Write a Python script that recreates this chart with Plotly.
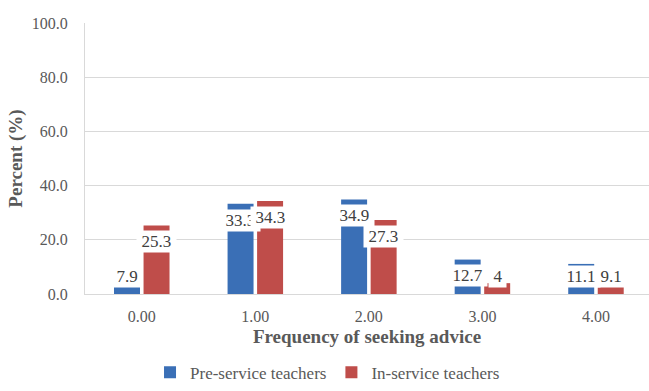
import plotly.graph_objects as go

categories = ["0.00", "1.00", "2.00", "3.00", "4.00"]
pre_service = [7.9, 33.3, 34.9, 12.7, 11.1]
in_service = [25.3, 34.3, 27.3, 4, 9.1]
pre_labels = ["7.9", "33.3", "34.9", "12.7", "11.1"]
in_labels = ["25.3", "34.3", "27.3", "4", "9.1"]
y_ticks = [0, 20, 40, 60, 80, 100]

BLUE = "#3A6FB6"
RED = "#BF4D4A"
FONT = "Liberation Serif"

fig = go.Figure()
fig.add_trace(go.Bar(name="Pre-service teachers", x=categories, y=pre_service,
                     marker_color=BLUE, marker_line_width=0))
fig.add_trace(go.Bar(name="In-service teachers", x=categories, y=in_service,
                     marker_color=RED, marker_line_width=0))

annotations = []
for i, cat in enumerate(categories):
    for vals, labs, shift in ((pre_service, pre_labels, -14.75), (in_service, in_labels, 14.75)):
        v = vals[i]
        yc = max(v - 6.0, 6.4)
        annotations.append(dict(
            x=i, y=yc, xref="x", yref="y", text="\u2009" + labs[i] + "\u2009",
            showarrow=False, xshift=shift, yanchor="middle", xanchor="center",
            bgcolor="white", borderpad=1,
            font=dict(family=FONT, size=17, color="#404040"),
        ))

fig.update_layout(
    width=649, height=391,
    margin=dict(l=85, r=0, t=23, b=90),
    plot_bgcolor="white", paper_bgcolor="white",
    barmode="group", bargap=0.48, bargroupgap=0.12,
    font=dict(family=FONT, size=16, color="#595959"),
    annotations=annotations,
    legend=dict(orientation="h", x=0.43, xanchor="center", y=-0.29, yanchor="middle",
                font=dict(family=FONT, size=17, color="#595959"),
                itemwidth=30, tracegroupgap=0),
    xaxis=dict(
        range=[-0.5, 4.467], showgrid=False,
        showline=True, linecolor="#D9D9D9", linewidth=1,
        ticks="outside", ticklen=8, tickcolor="rgba(0,0,0,0)",
        tickfont=dict(family=FONT, size=16, color="#595959"),
        title=dict(text="<b>Frequency of seeking advice</b>", standoff=5,
                   font=dict(family=FONT, size=19, color="#595959")),
    ),
    yaxis=dict(
        range=[0, 100], tickvals=y_ticks, tickformat=".1f",
        showgrid=True, gridcolor="#D9D9D9", gridwidth=1,
        showline=True, linecolor="#D9D9D9", linewidth=1,
        zeroline=False, ticks="", ticklabelstandoff=13,
        tickfont=dict(family=FONT, size=16, color="#595959"),
        title=dict(text="<b>Percent (%)</b>", standoff=4,
                   font=dict(family=FONT, size=19, color="#595959")),
    ),
)

fig.write_html("out.html")
